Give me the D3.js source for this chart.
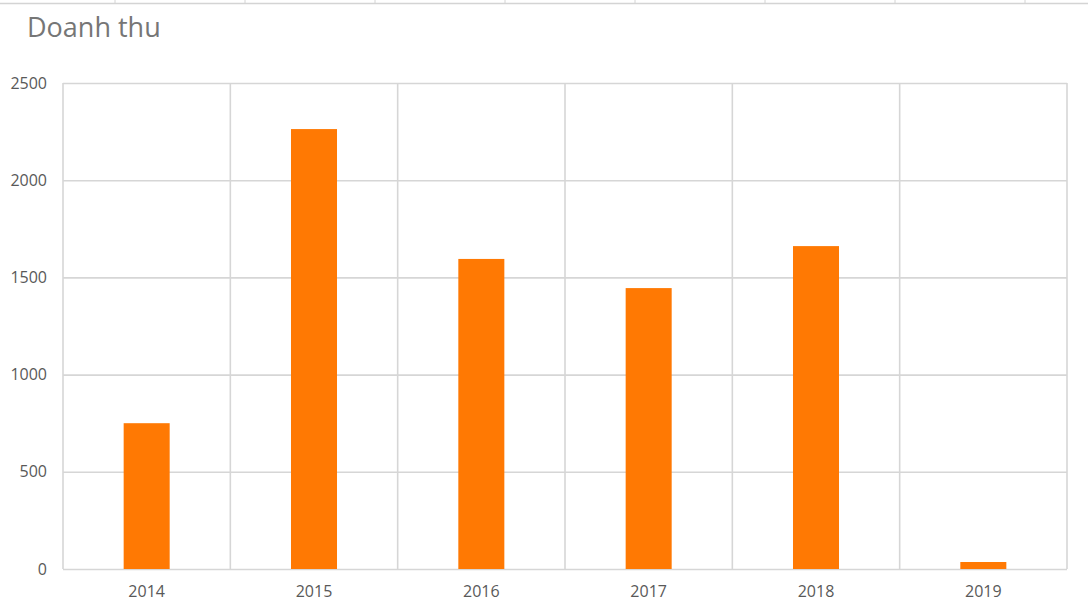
<!DOCTYPE html>
<html><head><meta charset="utf-8">
<script src="https://cdn.jsdelivr.net/npm/d3@7"></script>
<style>html,body{margin:0;padding:0;background:#fff;}svg{display:block;}</style>
</head><body>
<svg id="c" width="1088" height="608"></svg>
<script>
const title = "Doanh thu";
const years = ["2014","2015","2016","2017","2018","2019"];
const revenue = [750, 2263, 1595, 1445, 1661, 36];
const yTicks = [0, 500, 1000, 1500, 2000, 2500];
const sheetCols = [115, 245, 375, 505, 635, 765, 895, 1025];

const svg = d3.select("#c");
const W = 1088, H = 608;
const m = {left: 63, right: 1067, top: 83, bottom: 569};

// spreadsheet cell border strip at top
svg.append("line").attr("x1",0).attr("x2",W).attr("y1",3.5).attr("y2",3.5)
  .attr("stroke","#d4d4d4").attr("stroke-width",1.5);
svg.selectAll(".sc").data(sheetCols).join("line")
  .attr("x1",d=>d).attr("x2",d=>d).attr("y1",0).attr("y2",4)
  .attr("stroke","#d4d4d4").attr("stroke-width",1);

svg.append("text").attr("x",27).attr("y",37).text(title)
  .attr("font-family","'Open Sans', sans-serif").attr("font-size",27)
  .attr("fill","#767676");

const p = 0.725;
const x = d3.scaleBand().domain(years).range([m.left, m.right])
  .paddingInner(p).paddingOuter(p/2);
const xg = d3.scaleBand().domain(years).range([m.left, m.right]).padding(0);
const y = d3.scaleLinear().domain([0, 2500]).range([m.bottom, m.top]);

const grid = "#d6d6d6";
// horizontal gridlines
svg.append("g").call(d3.axisLeft(y).tickValues(yTicks).tickSize(-(m.right-m.left)).tickFormat(""))
  .attr("transform",`translate(${m.left},0)`)
  .call(g=>g.select(".domain").remove())
  .call(g=>g.selectAll("line").attr("stroke",grid).attr("stroke-width",1.6));
// vertical gridlines at category boundaries
const bounds = years.map(d=>xg(d)).concat([m.right]);
svg.append("g").selectAll("line").data(bounds).join("line")
  .attr("x1",d=>d).attr("x2",d=>d).attr("y1",m.top).attr("y2",m.bottom)
  .attr("stroke",grid).attr("stroke-width",1.6);

// bars
svg.append("g").selectAll("rect").data(revenue).join("rect")
  .attr("x",(d,i)=>x(years[i])).attr("width",x.bandwidth())
  .attr("y",d=>y(d)).attr("height",d=>y(0)-y(d))
  .attr("fill","#ff7903");

// y labels
const ya = svg.append("g").attr("transform",`translate(${m.left},0)`)
  .call(d3.axisLeft(y).tickValues(yTicks).tickSize(0).tickPadding(16).tickFormat(d3.format("d")));
ya.select(".domain").remove();
ya.selectAll("text").attr("font-family","'Open Sans', sans-serif").attr("font-size",16).attr("fill","#595959");

// x labels
const xa = svg.append("g").attr("transform",`translate(0,${m.bottom})`)
  .call(d3.axisBottom(x).tickSize(0).tickPadding(17));
xa.select(".domain").remove();
xa.selectAll("text").attr("font-family","'Open Sans', sans-serif").attr("font-size",16).attr("fill","#595959");
</script>
</body></html>
